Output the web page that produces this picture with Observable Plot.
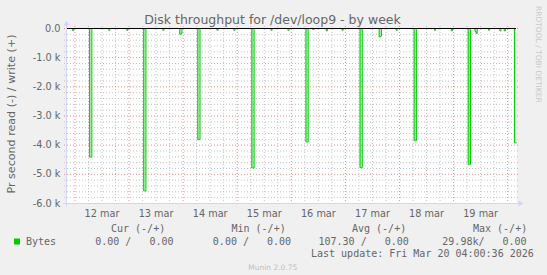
<!DOCTYPE html>
<html><head><meta charset="utf-8">
<script src="https://cdn.jsdelivr.net/npm/d3@7"></script>
<script src="https://cdn.jsdelivr.net/npm/@observablehq/plot@0.6"></script>
<style>
html,body{margin:0;padding:0;background:#f0f0f0;}
#chart{width:547px;height:275px;position:relative;overflow:hidden;background:#f0f0f0;}
svg{display:block}
</style></head><body><div id="chart"></div>
<script>
// ---- data ----
const title = "Disk throughput for /dev/loop9 - by week";
const yLabel = "Pr second read (-) / write (+)";
const xStart = "2026-03-11T20:15:00Z";
const xEnd = "2026-03-20T03:55:00Z";
const dayLabels = ["12 mar","13 mar","14 mar","15 mar","16 mar","17 mar","18 mar","19 mar"];
const dayLabelTimes = ["2026-03-12T12:00Z","2026-03-13T12:00Z","2026-03-14T12:00Z","2026-03-15T12:00Z","2026-03-16T12:00Z","2026-03-17T12:00Z","2026-03-18T12:00Z","2026-03-19T12:00Z"];
const yTicks = [0, -1000, -2000, -3000, -4000, -5000, -6000];
const yTickLabels = ["0.0", "-1.0 k", "-2.0 k", "-3.0 k", "-4.0 k", "-5.0 k", "-6.0 k"];

// 30-minute samples (start time, UTC) with non-zero read rate, bytes per second
const readTimes = [
  "2026-03-11T23:00Z",
  "2026-03-12T06:30Z","2026-03-12T07:00Z","2026-03-12T15:00Z","2026-03-12T23:00Z",
  "2026-03-13T06:30Z","2026-03-13T07:00Z","2026-03-13T15:00Z","2026-03-13T22:30Z","2026-03-13T23:00Z",
  "2026-03-14T06:30Z","2026-03-14T07:00Z","2026-03-14T15:00Z","2026-03-14T22:30Z",
  "2026-03-15T06:30Z","2026-03-15T07:00Z","2026-03-15T15:00Z","2026-03-15T22:30Z",
  "2026-03-16T06:30Z","2026-03-16T07:00Z","2026-03-16T09:30Z","2026-03-16T15:30Z","2026-03-16T22:30Z",
  "2026-03-17T06:30Z","2026-03-17T07:00Z","2026-03-17T15:00Z","2026-03-17T15:30Z","2026-03-17T22:30Z",
  "2026-03-18T06:30Z","2026-03-18T07:00Z","2026-03-18T15:30Z","2026-03-18T23:00Z",
  "2026-03-19T06:30Z","2026-03-19T07:00Z","2026-03-19T09:30Z","2026-03-19T10:00Z","2026-03-19T15:30Z","2026-03-19T20:30Z","2026-03-19T22:30Z",
  "2026-03-20T03:00Z","2026-03-20T03:30Z"
];
const readValues = [
  70,
  4410, 4410, 60, 60,
  5570, 5570, 60, 200, 170,
  3810, 3810, 60, 60,
  4780, 4780, 60, 60,
  3890, 3890, 40, 80, 60,
  4770, 4770, 290, 260, 60,
  3850, 3850, 60, 80,
  4660, 4660, 100, 170, 60, 80, 80,
  3920, 3920
];
// write rate is zero throughout

const legendName = "Bytes";
const legendHeaders = ["Cur (-/+)", "Min (-/+)", "Avg (-/+)", "Max (-/+)"];
const legendRead = ["  0.00 /", "  0.00 /", "107.30 /", " 29.98k/"];
const legendWrite = ["  0.00", "  0.00", "  0.00", "  0.00"];
const lastUpdate = "Last update: Fri Mar 20 04:00:36 2026";
const footer = "Munin 2.0.75";
const watermark = "RRDTOOL / TOBI OETIKER";

// ---- build ----
const x0 = new Date(xStart), x1 = new Date(xEnd);
const readMap = new Map(readTimes.map((t, i) => [+new Date(t), readValues[i]]));
const step = 30 * 60 * 1000;
const series = [];
let lastV = 0;
for (let t = Math.floor(+x0 / step) * step; t <= +x1; t += step) {
  lastV = -(readMap.get(t) ?? 0);
  series.push({t: new Date(Math.max(t, +x0)), v: lastV});
}
series.push({t: x1, v: lastV});

const labelMap = new Map(dayLabelTimes.map((d, i) => [+new Date(d), dayLabels[i]]));
const yLabelMap = new Map(yTicks.map((d, i) => [d, yTickLabels[i]]));
const majorX = d3.utcDay.range(x0, x1);
const minorX = d3.utcHour.every(6).range(x0, x1).filter(d => d.getUTCHours() !== 0);
const majorY = yTicks;
const minorY = d3.range(-6000, 1, 200).filter(v => v % 1000 !== 0);

const axisColor = "#CFD6F8";
const plot = Plot.plot({
  width: 547, height: 275,
  marginLeft: 66, marginRight: 31, marginTop: 28, marginBottom: 72,
  style: {background: "transparent", fontFamily: "DejaVu Sans", fontSize: "9.72px", color: "#666", overflow: "visible"},
  x: {type: "utc", domain: [x0, x1], ticks: dayLabelTimes.map(d => new Date(d)), tickFormat: d => labelMap.get(+d), tickSize: 0, tickPadding: 7, label: null},
  y: {domain: [-6000, 0], ticks: yTicks, tickFormat: d => yLabelMap.get(d), tickSize: 0, tickPadding: 6, label: null},
  marks: [
    Plot.frame({fill: "#ffffff", stroke: "none"}),
    Plot.ruleY(minorY, {stroke: "#c4c4c4", strokeDasharray: "1,2", insetLeft: -2, insetRight: -2}),
    Plot.ruleX(minorX, {stroke: "#c4c4c4", strokeDasharray: "1,2", insetTop: -2, insetBottom: -2}),
    Plot.ruleY(majorY, {stroke: "#f08a8a", strokeDasharray: "1,2", insetLeft: -2, insetRight: -2}),
    Plot.ruleX(majorX, {stroke: "#f08a8a", strokeDasharray: "1,2", insetTop: -2, insetBottom: -2}),
    Plot.areaY(series, {x: "t", y: "v", curve: "step-after", fill: "#00cc00", fillOpacity: 0.3}),
    Plot.line(series, {x: "t", y: "v", curve: "step-after", stroke: "#00cc00", strokeWidth: 1}),
    Plot.ruleY([0], {stroke: "#000000"}),
    Plot.ruleX([x0], {stroke: axisColor, insetTop: -4, insetBottom: -3}),
    Plot.ruleY([-6000], {stroke: axisColor, insetLeft: -3, insetRight: -4})
  ]
});

document.getElementById("chart").appendChild(plot);
const svg = d3.select(plot);
const sx = plot.scale("x"), sy = plot.scale("y");
const L = sx.apply(x0) + 0.5, R = sx.apply(x1) + 0.5, T = sy.apply(0) + 0.5, B = sy.apply(-6000) + 0.5;
// arrows
svg.append("path").attr("d", `M${L - 3},${T - 3}L${L + 3},${T - 3}L${L},${T - 8}Z`).attr("fill", axisColor);
svg.append("path").attr("d", `M${R + 2},${B - 3}L${R + 2},${B + 3}L${R + 7},${B}Z`).attr("fill", axisColor);

const font = "DejaVu Sans", mono = "DejaVu Sans Mono";
svg.append("text").text(title).attr("x", 272.5).attr("y", 23.5).attr("text-anchor", "middle")
  .attr("font-family", font).attr("font-size", 12.5).attr("fill", "#666");
svg.append("text").text(yLabel).attr("transform", "translate(14.5,114) rotate(-90)").attr("text-anchor", "middle")
  .attr("font-family", font).attr("font-size", 11.1).attr("fill", "#666");
svg.append("text").text(watermark).attr("transform", "translate(535.5,6) rotate(90)").attr("text-anchor", "start")
  .attr("font-family", font).attr("font-size", 7.5).attr("fill", "#c8c8c8");

const headerX = [111, 231.5, 352, 473];
const colX = [83.2, 200.8, 318.5, 436.3];
const g = svg.append("g").attr("font-family", mono).attr("font-size", 10).attr("fill", "#666")
  .attr("text-anchor", "start").style("white-space", "pre");
legendHeaders.forEach((h, i) => g.append("text").text(h).attr("x", headerX[i]).attr("y", 231.5).attr("xml:space", "preserve"));
svg.append("rect").attr("x", 14).attr("y", 238.5).attr("width", 6).attr("height", 6).attr("fill", "#00cc00");
g.append("text").text(legendName).attr("x", 26).attr("y", 244.5);
legendRead.forEach((r, i) => g.append("text").text(r + " " + legendWrite[i]).attr("x", colX[i]).attr("y", 244.5).attr("xml:space", "preserve"));
g.append("text").text(lastUpdate).attr("x", 311).attr("y", 257).attr("xml:space", "preserve");
svg.append("text").text(footer).attr("x", 272.8).attr("y", 270).attr("text-anchor", "middle")
  .attr("font-family", font).attr("font-size", 7.5).attr("fill", "#c0c0c0");
</script></body></html>
